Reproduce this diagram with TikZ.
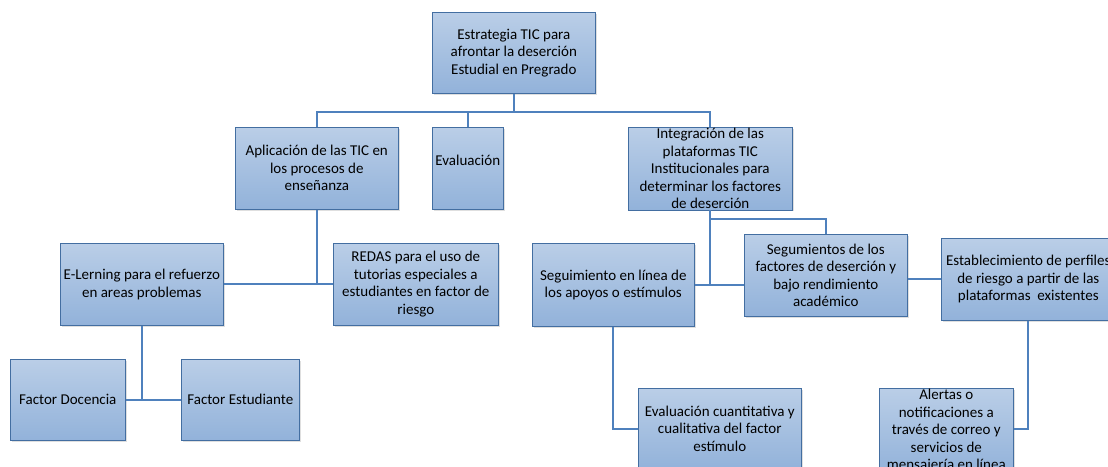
\documentclass[tikz,border=0pt]{standalone}
\usepackage{fontspec}
\setmainfont{Carlito}
\usetikzlibrary{shadows}

\definecolor{azulLinea}{RGB}{79,129,189}
\definecolor{azulClaro}{RGB}{186,206,231}
\definecolor{azulOscuro}{RGB}{146,178,218}

\tikzset{
  caja/.style={
    draw=azulLinea!85!black, line width=0.6pt,
    top color=azulClaro, bottom color=azulOscuro,
    drop shadow={shadow xshift=1.2pt, shadow yshift=-1.2pt, opacity=0.25},
    anchor=north west, align=center, inner sep=1pt,
    font=\fontsize{15}{17.5}\selectfont
  },
  linea/.style={draw=azulLinea, line width=2.2pt}
}

\begin{document}
\begin{tikzpicture}[x=1pt, y=-1pt]
  \clip (0,0) rectangle (1108,466); % 画布大小
  % 第一层
  \node[caja, minimum width=163pt, minimum height=81pt] (raiz) at (432,12)
    {Estrategia TIC para\\afrontar la deserción\\Estudial en Pregrado};
  % 第二层
  \node[caja, minimum width=163pt, minimum height=82pt] (aplic) at (235,127)
    {Aplicación de las TIC en\\los procesos de\\enseñanza};
  \node[caja, minimum width=71pt, minimum height=82pt] (evalua) at (432,127)
    {Evaluación\\[-1pt]};
  \node[caja, minimum width=164pt, minimum height=82pt] (integra) at (628,127)
    {Integración de las\\plataformas TIC\\Institucionales para\\determinar los factores\\de deserción};
  % 第三层
  \node[caja, minimum width=163pt, minimum height=82pt] (elearn) at (60,243)
    {E-Lerning para el refuerzo\\en areas problemas};
  \node[caja, minimum width=165pt, minimum height=82pt] (redas) at (333,243)
    {REDAS para el uso de\\tutorias especiales a\\estudiantes en factor de\\riesgo};
  \node[caja, minimum width=162pt, minimum height=83pt] (seglinea) at (532,243)
    {Seguimiento en línea de\\los apoyos o estímulos};
  \node[caja, minimum width=163pt, minimum height=82pt] (segfact) at (744,234)
    {Segumientos de los\\factores de deserción y\\bajo rendimiento\\académico};
  \node[caja, minimum width=174pt, minimum height=82pt] (perfil) at (941,238)
    {Establecimiento de perfiles\\de riesgo a partir de las\\plataformas\ \ existentes};
  % 第四层
  \node[caja, minimum width=115pt, minimum height=81pt] (docencia) at (10,359)
    {Factor Docencia};
  \node[caja, minimum width=118pt, minimum height=81pt] (estud) at (181,359)
    {Factor Estudiante};
  \node[caja, minimum width=163pt, minimum height=81pt] (evcuanti) at (638,388)
    {Evaluación cuantitativa y\\cualitativa del factor\\estímulo};
  \node[caja, minimum width=134pt, minimum height=81pt] (alertas) at (879,388)
    {Alertas o\\notificaciones a\\través de correo y\\servicios de\\mensajería en línea};

  % 连线
  \draw[linea] (raiz.south) -- ++(0,18) -| (aplic.north);
  \draw[linea] (raiz.south) -- ++(0,18) -| (integra.north);
  \draw[linea] (evalua.north) -- ++(0,-16);
  \draw[linea] (aplic.south) -- (aplic.south |- elearn.east);
  \draw[linea] (elearn.east) -- (redas.west);
  \draw[linea] (elearn.south) -- (elearn.south |- docencia.east);
  \draw[linea] (docencia.east) -- (estud.west);
  \draw[linea] (integra.south) -- (integra.south |- seglinea.east);
  \draw[linea] (seglinea.east) -- (segfact.west |- seglinea.east);
  \draw[linea] (integra.south) ++(0,9) -| (segfact.north);
  \draw[linea] (segfact.east |- perfil.west) -- (perfil.west);
  \draw[linea] (seglinea.south) |- (evcuanti.west);
  \draw[linea] (perfil.south) |- (alertas.east |- evcuanti.west);
\end{tikzpicture}
\end{document}
